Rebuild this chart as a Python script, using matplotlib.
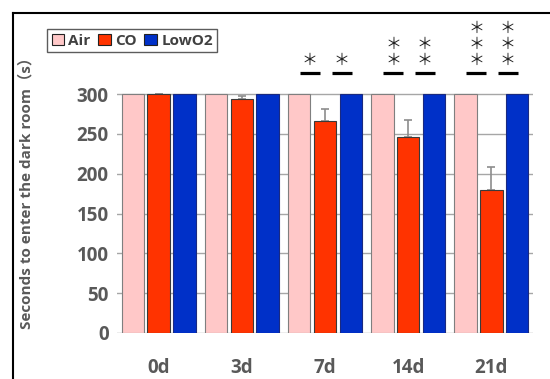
import numpy as np
import matplotlib.pyplot as plt
from matplotlib.lines import Line2D

days = ["0d", "3d", "7d", "14d", "21d"]
air = [300, 300, 300, 300, 300]
co = [300, 294, 266, 246, 180]
co_err = [0, 4, 16, 21, 28]
lowo2 = [300, 300, 300, 300, 300]
stars = [0, 0, 1, 2, 3]

grey = "#595959"
fig = plt.figure(figsize=(5.5, 3.79), dpi=100)
ax = fig.add_axes([0.2127, 0.1214, 0.7563, 0.8443])

x = np.arange(len(days))
off = 0.31
w = 0.27
ax.bar(x - off, air, w, color="#FFC8C8", edgecolor="#7f7f7f", linewidth=0.8, label="Air", zorder=3)
ax.bar(x, co, w, color="#FF3300", edgecolor="#3a3a3a", linewidth=0.8, label="CO", zorder=3,
       yerr=[[0] * len(co), co_err],
       error_kw=dict(ecolor="#8c8c8c", elinewidth=1.2, capsize=3, capthick=1.2, zorder=2))
ax.bar(x + off, lowo2, w, color="#0030C8", edgecolor="#1a2a80", linewidth=0.8, label="LowO2", zorder=3)

# significance marks
for i, n in enumerate(stars):
    if n == 0:
        continue
    for dx in (-0.18, 0.2):
        ax.plot([i + dx - 0.12, i + dx + 0.12], [327, 327], color="black", lw=2.3,
                solid_capstyle="butt", clip_on=False)
        ax.text(i + dx, 343 + (n - 1) * 19 / 2, "\n".join(["＊"] * n), ha="center", va="center",
                fontsize=11.5, linespacing=0.92, family=["Noto Sans CJK JP", "DejaVu Sans"],
                color="#222222")

ax.set_xlim(-0.5, 4.5)
ax.set_ylim(0, 402)
ax.set_yticks(range(0, 301, 50))
ax.set_xticks(x)
ax.set_xticklabels(days)
for s in ax.spines.values():
    s.set_visible(False)
ax.grid(axis="y", color="#a6a6a6", lw=1.0, zorder=0)
ax.tick_params(axis="both", length=0, labelsize=13.5, labelcolor=grey, pad=6)
ax.tick_params(axis="x", pad=18)
for t in ax.get_xticklabels() + ax.get_yticklabels():
    t.set_fontweight("bold")
    t.set_family("Open Sans")
ax.set_ylabel("Seconds to enter the dark room（s）", fontsize=11, color=grey, fontweight="bold",
              family=["Open Sans", "Noto Sans CJK JP"])
ax.yaxis.set_label_coords(-0.2, 0.45)

leg = ax.legend(loc="upper left", bbox_to_anchor=(-0.168, 0.95), ncol=3, frameon=True, fancybox=False,
                edgecolor="#333333", handlelength=0.8, handleheight=0.8, borderaxespad=0,
                handletextpad=0.3, columnspacing=0.5, borderpad=0.3,
                prop={"family": "Open Sans", "weight": "bold", "size": 11})
for t in leg.get_texts():
    t.set_color("#404040")
for h in leg.legend_handles:
    h.set_edgecolor("#222222")
leg.get_frame().set_linewidth(1.0)

fig.add_artist(Line2D([13 / 550, 13 / 550], [0, 1 - 13 / 379], color="black", lw=1.5))
fig.add_artist(Line2D([13 / 550, 1], [1 - 13 / 379, 1 - 13 / 379], color="black", lw=1.5))

fig.savefig("out.png", dpi=100)
